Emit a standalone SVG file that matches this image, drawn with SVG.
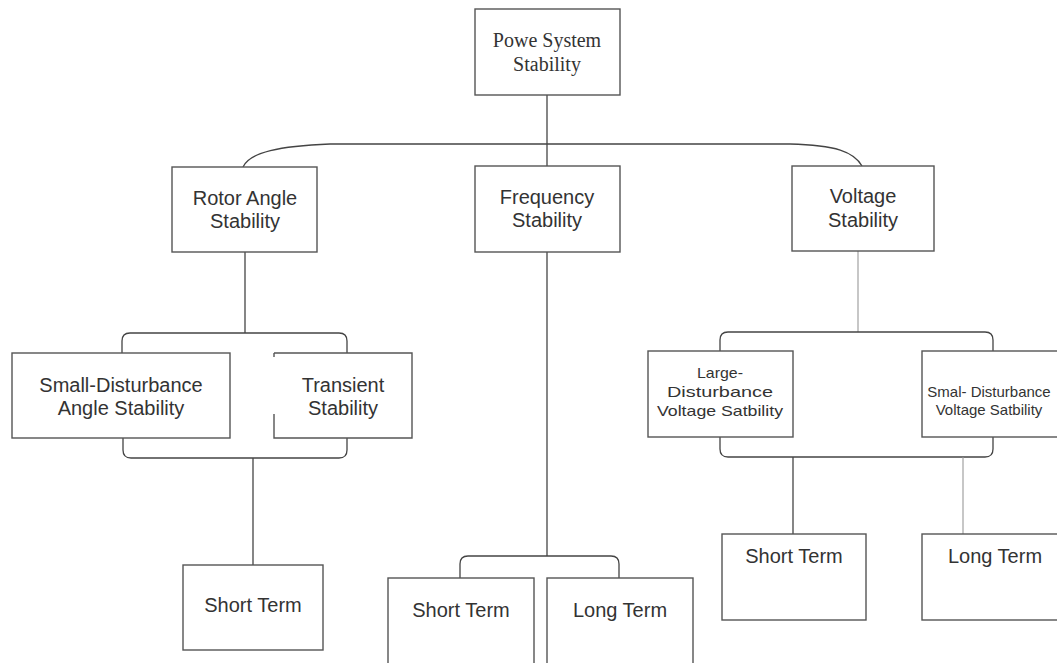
<svg xmlns="http://www.w3.org/2000/svg" width="1057" height="663" viewBox="0 0 1057 663">
<style>
.box{fill:#fff;stroke:#555;stroke-width:1.4}
.ln{fill:none;stroke:#444;stroke-width:1.3}
.lt{fill:none;stroke:#999;stroke-width:1.1}
.t{font-family:"Liberation Sans",Arial,sans-serif;font-size:20px;fill:#333;text-anchor:middle}
.s{font-family:"Liberation Sans",Arial,sans-serif;font-size:15px;fill:#333;text-anchor:middle}
.sr{font-family:"Liberation Serif","Times New Roman",serif;font-size:20px;fill:#333;text-anchor:middle}
</style>
<rect width="1057" height="663" fill="#fff"/>
<g id="connectors">
<path class="ln" d="M547 95 V166"/>
<path class="ln" d="M243 167 C250 152 280 146 330 144 L790 144 C836 145 854 152 862 166"/>
<path class="ln" d="M245 252 V333"/>
<path class="ln" d="M122 353 V341 Q122 333 130 333 H339 Q347 333 347 341 V353"/>
<path class="ln" d="M123 438 V450 Q123 458 131 458 H339 Q347 458 347 450 V438"/>
<path class="ln" d="M253 458 V565"/>
<path class="ln" d="M547 252 V556"/>
<path class="ln" d="M460 578 V564 Q460 556 468 556 H611 Q619 556 619 564 V578"/>
<path class="lt" d="M858 251 V332"/>
<path class="ln" d="M720 351 V340 Q720 332 728 332 H985 Q993 332 993 340 V351"/>
<path class="ln" d="M720 437 V449 Q720 457 728 457 H985 Q993 457 993 449 V437"/>
<path class="ln" d="M793 457 V534"/>
<path class="lt" d="M963 457 V534"/>
</g>
<g id="power-system-stability">
<rect class="box" x="475" y="9" width="145" height="86"/>
<text class="sr" x="547" y="47">Powe System</text>
<text class="sr" x="547" y="71">Stability</text>
</g>
<g id="rotor-angle-stability">
<rect class="box" x="172" y="167" width="145" height="85"/>
<text class="t" x="245" y="205">Rotor Angle</text>
<text class="t" x="245" y="228">Stability</text>
</g>
<g id="frequency-stability">
<rect class="box" x="475" y="166" width="145" height="86"/>
<text class="t" x="547" y="204">Frequency</text>
<text class="t" x="547" y="227">Stability</text>
</g>
<g id="voltage-stability">
<rect class="box" x="792" y="166" width="142" height="85"/>
<text class="t" x="863" y="203">Voltage</text>
<text class="t" x="863" y="227">Stability</text>
</g>
<g id="small-disturbance-angle">
<rect class="box" x="12" y="353" width="218" height="85"/>
<text class="t" x="121" y="392">Small-Disturbance</text>
<text class="t" x="121" y="415">Angle Stability</text>
</g>
<g id="transient-stability">
<path class="box" d="M274 353 H412 V438 H274 V414 M274 353 V357"/>
<text class="t" x="343" y="392">Transient</text>
<text class="t" x="343" y="415">Stability</text>
</g>
<g id="large-disturbance-voltage">
<rect class="box" x="648" y="351" width="145" height="86"/>
<text class="s" x="720" y="378" textLength="46" lengthAdjust="spacingAndGlyphs">Large-</text>
<text class="s" x="720" y="397" textLength="106" lengthAdjust="spacingAndGlyphs">Disturbance</text>
<text class="s" x="720" y="416" textLength="126" lengthAdjust="spacingAndGlyphs">Voltage Satbility</text>
</g>
<g id="small-disturbance-voltage">
<rect class="box" x="922" y="351" width="140" height="86"/>
<text class="s" x="989" y="397">Smal- Disturbance</text>
<text class="s" x="989" y="415">Voltage Satbility</text>
</g>
<g id="short-term-angle">
<rect class="box" x="183" y="565" width="140" height="85"/>
<text class="t" x="253" y="612">Short Term</text>
</g>
<g id="short-term-frequency">
<rect class="box" x="388" y="578" width="146" height="95"/>
<text class="t" x="461" y="617">Short Term</text>
</g>
<g id="long-term-frequency">
<rect class="box" x="547" y="578" width="146" height="95"/>
<text class="t" x="620" y="617">Long Term</text>
</g>
<g id="short-term-voltage">
<rect class="box" x="722" y="534" width="144" height="86"/>
<text class="t" x="794" y="563">Short Term</text>
</g>
<g id="long-term-voltage">
<rect class="box" x="922" y="534" width="146" height="86"/>
<text class="t" x="995" y="563">Long Term</text>
</g>
</svg>
